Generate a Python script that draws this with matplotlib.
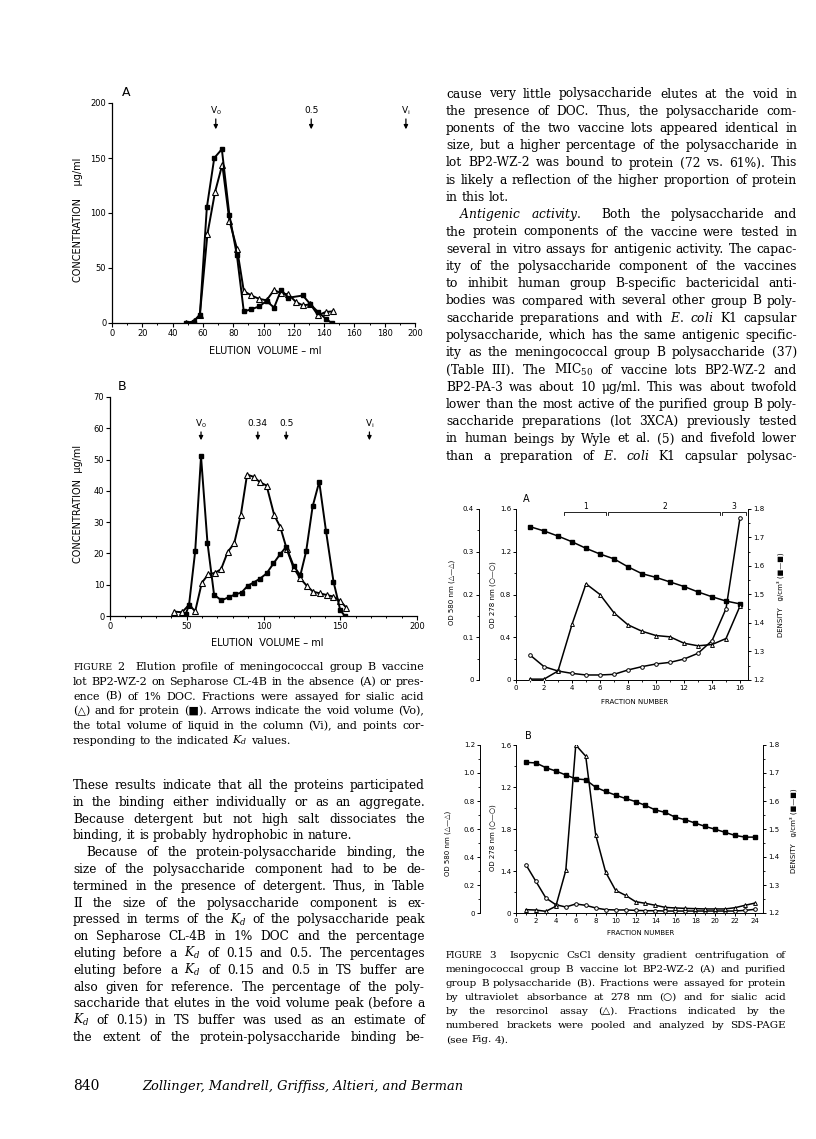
import matplotlib.pyplot as plt
from matplotlib.ticker import MultipleLocator, FuncFormatter

# Figure 2A: elution volume (ml) vs concentration (ug/ml), no DOC
fig2a_protein_ml = [48.8, 53.8, 58, 62.6, 67.5, 72.5, 77.5, 82.4, 87, 92, 97, 102, 107, 111.6,
                    116.5, 126, 131, 136, 141, 145]
fig2a_protein = [0, 1, 7, 105, 150, 158, 98, 62, 10.5, 12.5, 15, 20, 14, 30, 23, 25, 17, 10, 4, 0]
fig2a_sialic_ml = [48.8, 53.8, 58, 63, 68, 72.8, 77.5, 82.6, 87, 92, 97, 102, 107, 111.6, 116.5,
                   121.5, 126, 131, 136, 141, 146]
fig2a_sialic = [0, 1.5, 7.6, 81, 119, 144, 93, 67, 29, 25, 22, 20.6, 30, 27, 26, 19, 16, 17, 7, 10, 10.6]
fig2a_marks = [('V$_{\\mathsf{0}}$', 68.5), ('0.5', 131.5), ('V$_{\\mathsf{i}}$', 194)]

# Figure 2B: same, in 1% DOC
fig2b_protein_ml = [49.3, 51.5, 55.5, 59.3, 63.5, 67.8, 72.6, 77.4, 81.5, 85.7, 89.6, 93.5, 97.6,
                    102, 106.5, 110.9, 114.8, 119.6, 124, 127.8, 132, 136.3, 140.7, 145.6, 150, 153]
fig2b_protein = [0.5, 3.6, 20.7, 51, 23.4, 6.8, 5, 6, 6.9, 7.5, 9.6, 10.7, 11.9, 13.6, 16.8, 19.8,
                 22.1, 16, 13, 20.7, 35, 42.9, 27.2, 11, 1.9, 0]
fig2b_sialic_ml = [42, 47, 51.5, 55.5, 59.8, 64, 68.5, 72.4, 76.7, 80.9, 85.2, 89.3, 93.5, 97.8, 102,
                   107, 110.9, 115.2, 119.6, 124, 128.3, 132.2, 137, 141.3, 145.6, 150, 153.9]
fig2b_sialic = [1.4, 1.2, 3.6, 1.5, 10.6, 13.3, 13.8, 15, 20.5, 23.2, 32.2, 45.2, 44.5, 42.7, 41.7,
                32.2, 28.5, 21.3, 15.4, 12, 9.6, 7.8, 7.2, 6.7, 6.2, 4.8, 2.7]
fig2b_marks = [('V$_{\\mathsf{0}}$', 59.3), ('0.34', 96.3), ('0.5', 114.8), ('V$_{\\mathsf{i}}$', 169)]

# Figure 3A: CsCl gradient, vaccine lot BP2-WZ-2
fig3a_fraction = [1, 2, 3, 4, 5, 6, 7, 8, 9, 10, 11, 12, 13, 14, 15, 16]
fig3a_density = [1.738, 1.723, 1.705, 1.685, 1.662, 1.642, 1.625, 1.597, 1.573, 1.560, 1.544,
                 1.528, 1.509, 1.492, 1.477, 1.467]
fig3a_od278 = [0.234, 0.125, 0.084, 0.062, 0.047, 0.047, 0.053, 0.094, 0.125, 0.15, 0.165, 0.196,
               0.25, 0.368, 0.667, 1.52]
fig3a_od580 = [0.002, 0.002, 0.021, 0.130, 0.225, 0.200, 0.157, 0.129, 0.114, 0.104, 0.101, 0.086,
               0.080, 0.083, 0.097, 0.173]
fig3a_pools = [(3.45, 6.45, '1'), (6.6, 14.6, '2'), (14.7, 16.45, '3')]

# Figure 3B: CsCl gradient, purified group B polysaccharide
fig3b_fraction = [1, 2, 3, 4, 5, 6, 7, 8, 9, 10, 11, 12, 13, 14, 15, 16, 17, 18, 19, 20, 21, 22, 23, 24]
fig3b_density = [1.738, 1.736, 1.719, 1.707, 1.693, 1.679, 1.676, 1.649, 1.634, 1.621, 1.609, 1.598,
                 1.584, 1.568, 1.559, 1.542, 1.533, 1.521, 1.509, 1.499, 1.488, 1.477, 1.471, 1.471]
fig3b_od278 = [0.459, 0.301, 0.143, 0.079, 0.057, 0.086, 0.073, 0.048, 0.032, 0.029, 0.029, 0.025,
               0.022, 0.022, 0.019, 0.019, 0.019, 0.019, 0.019, 0.019, 0.019, 0.019, 0.025, 0.035]
fig3b_od580 = [0.024, 0.021, 0.012, 0.048, 0.304, 1.2, 1.12, 0.558, 0.292, 0.162, 0.126, 0.081,
               0.069, 0.055, 0.040, 0.036, 0.033, 0.031, 0.029, 0.029, 0.029, 0.038, 0.055, 0.071]
fig3b_od278_labels = ['0', '1.4', '1.8', '1.2', '1.6']   # printed that way on the page

# page text
right_col = [
    "cause very little polysaccharide elutes at the void in",
    "the presence of DOC. Thus, the polysaccharide com-",
    "ponents of the two vaccine lots appeared identical in",
    "size, but a higher percentage of the polysaccharide in",
    "lot BP2-WZ-2 was bound to protein (72 vs. 61%). This",
    "is likely a reflection of the higher proportion of protein",
    "in this lot.",
    "  $\\mathit{Antigenic}$ $\\mathit{activity.}$  Both the polysaccharide and",
    "the protein components of the vaccine were tested in",
    "several in vitro assays for antigenic activity. The capac-",
    "ity of the polysaccharide component of the vaccines",
    "to inhibit human group B-specific bactericidal anti-",
    "bodies was compared with several other group B poly-",
    "saccharide preparations and with $\\mathit{E.}$ $\\mathit{coli}$ K1 capsular",
    "polysaccharide, which has the same antigenic specific-",
    "ity as the meningococcal group B polysaccharide (37)",
    "(Table III). The MIC$_{50}$ of vaccine lots BP2-WZ-2 and",
    "BP2-PA-3 was about 10 μg/ml. This was about twofold",
    "lower than the most active of the purified group B poly-",
    "saccharide preparations (lot 3XCA) previously tested",
    "in human beings by Wyle et al. (5) and fivefold lower",
    "than a preparation of $\\mathit{E.}$ $\\mathit{coli}$ K1 capsular polysac-",
]
left_col = [
    "These results indicate that all the proteins participated",
    "in the binding either individually or as an aggregate.",
    "Because detergent but not high salt dissociates the",
    "binding, it is probably hydrophobic in nature.",
    "  Because of the protein-polysaccharide binding, the",
    "size of the polysaccharide component had to be de-",
    "termined in the presence of detergent. Thus, in Table",
    "II the size of the polysaccharide component is ex-",
    "pressed in terms of the $K_d$ of the polysaccharide peak",
    "on Sepharose CL-4B in 1% DOC and the percentage",
    "eluting before a $K_d$ of 0.15 and 0.5. The percentages",
    "eluting before a $K_d$ of 0.15 and 0.5 in TS buffer are",
    "also given for reference. The percentage of the poly-",
    "saccharide that elutes in the void volume peak (before a",
    "$K_d$ of 0.15) in TS buffer was used as an estimate of",
    "the extent of the protein-polysaccharide binding be-",
]
caption2 = [
    "FIGURE 2  Elution profile of meningococcal group B vaccine",
    "lot BP2-WZ-2 on Sepharose CL-4B in the absence (A) or pres-",
    "ence (B) of 1% DOC. Fractions were assayed for sialic acid",
    "(△) and for protein (■). Arrows indicate the void volume (Vo),",
    "the total volume of liquid in the column (Vi), and points cor-",
    "responding to the indicated $K_d$ values.",
]
caption3 = [
    "FIGURE 3  Isopycnic CsCl density gradient centrifugation of",
    "meningococcal group B vaccine lot BP2-WZ-2 (A) and purified",
    "group B polysaccharide (B). Fractions were assayed for protein",
    "by ultraviolet absorbance at 278 nm (○) and for sialic acid",
    "by the resorcinol assay (△). Fractions indicated by the",
    "numbered brackets were pooled and analyzed by SDS-PAGE",
    "(see Fig. 4).",
]

W, H = 816, 1139
SANS = 'DejaVu Sans'
BODY = ['DejaVu Serif', 'DejaVu Sans']
plt.rcParams['mathtext.fontset'] = 'dejavuserif'
plt.rcParams['font.family'] = SANS

fig = plt.figure(figsize=(W / 100, H / 100), dpi=100)


def add_axes(l, t, r, b):
    return fig.add_axes([l / W, 1 - b / H, (r - l) / W, (b - t) / H])


def put(x, y, s, **kw):
    return fig.text(x / W, 1 - y / H, s, **kw)


def elution_panel(box, ml_p, prot, ml_s, sial, ymax, ystep, xstep, marks, mark_y):
    ax = add_axes(*box)
    ax.plot(ml_s, sial, '-^', color='k', lw=1.4, ms=3.8, mfc='white', mew=0.8)
    ax.plot(ml_p, prot, '-s', color='k', lw=1.4, ms=3.2)
    ax.set_xlim(0, 200)
    ax.set_ylim(0, ymax)
    ax.xaxis.set_major_locator(MultipleLocator(xstep))
    ax.xaxis.set_minor_locator(MultipleLocator(10))
    ax.yaxis.set_major_locator(MultipleLocator(ystep))
    ax.spines[['top', 'right']].set_visible(False)
    ax.spines[['left', 'bottom']].set_linewidth(0.9)
    ax.tick_params(which='major', length=2.6, width=0.8, pad=1.5, labelsize=6)
    ax.tick_params(which='minor', length=1.6, width=0.7)
    tr = ax.get_xaxis_transform()
    for lab, x in marks:
        ax.text(x, mark_y[0], lab, transform=tr, ha='center', va='center', fontsize=6.5)
        ax.annotate('', xy=(x, mark_y[2]), xytext=(x, mark_y[1]), xycoords=tr,
                    arrowprops=dict(arrowstyle='-|>', color='k', lw=0.9, mutation_scale=6))
    return ax


def gradient_panel(box, frac, dens, od278, od580, xmax, od580_max, od580_step, od278_labels, outward):
    ax = add_axes(*box)
    ax.plot(frac, od278, '-o', color='k', lw=1.1, ms=2.6, mfc='white', mew=0.7, zorder=3)
    ax.set_xlim(0, xmax)
    ax.set_ylim(0, 1.6)
    ax.set_yticks([0, 0.4, 0.8, 1.2, 1.6], od278_labels)
    ax.yaxis.set_minor_locator(MultipleLocator(0.2))
    ax.xaxis.set_major_locator(MultipleLocator(2))
    ax.xaxis.set_minor_locator(MultipleLocator(1))
    ax.spines[['top', 'right']].set_visible(False)

    axd = ax.twinx()
    axd.plot(frac, dens, '-s', color='k', lw=1.1, ms=2.2)
    axd.set_ylim(1.2, 1.8)
    axd.yaxis.set_major_locator(MultipleLocator(0.1))
    axd.yaxis.set_minor_locator(MultipleLocator(0.05))
    axd.yaxis.set_major_formatter(FuncFormatter(lambda v, p: f'{v:.1f}'))
    axd.spines[['top', 'left', 'bottom']].set_visible(False)

    ax5 = ax.twinx()
    ax5.plot(frac, od580, '-^', color='k', lw=1.1, ms=2.8, mfc='white', mew=0.7)
    ax5.set_ylim(0, od580_max)
    ax5.yaxis.set_major_locator(MultipleLocator(od580_step))
    ax5.yaxis.set_minor_locator(MultipleLocator(od580_step / 2))
    ax5.yaxis.set_major_formatter(FuncFormatter(lambda v, p: '0' if abs(v) < 1e-9 else f'{v:.1f}'))
    ax5.yaxis.tick_left()
    ax5.spines[['top', 'right', 'bottom']].set_visible(False)
    ax5.spines['left'].set_position(('outward', outward))

    for a in (ax, axd, ax5):
        for s in a.spines.values():
            s.set_linewidth(0.7)
        a.tick_params(which='major', length=2.4, width=0.7, pad=1.2, labelsize=5)
        a.tick_params(which='minor', length=1.4, width=0.6)
    return ax


def text_block(lines, x0, x1, y0, dy, size, ragged=(), indent=13):
    # justified column: font is shrunk/grown so the tightest line has normal spacing
    r = fig.canvas.get_renderer()
    rows = []
    for i, line in enumerate(lines):
        left = x0 + (indent if line.startswith('  ') else 0)
        words = line.strip().split(' ')
        ts = [put(0, y0 + i * dy, w, family=BODY, va='baseline') for w in words]
        rows.append((left, ts, i in ragged))
    probe = [put(0, 0, s, family=BODY) for s in ('n n', 'nn')]

    def measure(sz):
        for _, ts, _ in rows:
            for t in ts:
                t.set_fontsize(sz * (0.84 if t.get_text() == 'FIGURE' else 1))
        for p in probe:
            p.set_fontsize(sz)
        sp = probe[0].get_window_extent(r).width - probe[1].get_window_extent(r).width
        return sp, [[t.get_window_extent(r).width for t in ts] for _, ts, _ in rows]

    space, widths = measure(size)
    fit = min((x1 - left) / (sum(ws) + space * (len(ws) - 1))
              for (left, ts, rag), ws in zip(rows, widths) if not rag)
    space, widths = measure(size * fit * 0.99)
    for p in probe:
        p.remove()
    for (left, ts, rag), ws in zip(rows, widths):
        gap = space if rag or len(ts) == 1 else (x1 - left - sum(ws)) / (len(ts) - 1)
        x = left
        for t, w in zip(ts, ws):
            t.set_x(x / W)
            x += w + gap


# ---- Figure 2 ----
elution_panel((112, 103, 415, 323), fig2a_protein_ml, fig2a_protein, fig2a_sialic_ml, fig2a_sialic,
              200, 50, 20, fig2a_marks, (0.965, 0.94, 0.868))
put(126, 93, 'A', fontsize=9, ha='center', va='center')
put(78, 220, 'CONCENTRATION    μg/ml', rotation=90, fontsize=7, ha='center', va='center')
put(265, 351, 'ELUTION  VOLUME – ml', fontsize=7, ha='center', va='center')

elution_panel((110, 397, 417, 616), fig2b_protein_ml, fig2b_protein, fig2b_sialic_ml, fig2b_sialic,
              70, 10, 50, fig2b_marks, (0.88, 0.853, 0.79))
put(122, 386, 'B', fontsize=9, ha='center', va='center')
put(78, 504, 'CONCENTRATION  μg/ml', rotation=90, fontsize=7, ha='center', va='center')
put(267, 643, 'ELUTION  VOLUME – ml', fontsize=7, ha='center', va='center')

# ---- Figure 3 ----
ax3a = gradient_panel((516, 509, 748, 680), fig3a_fraction, fig3a_density, fig3a_od278, fig3a_od580,
                      16.57, 0.4, 0.1, ['0', '0.4', '0.8', '1.2', '1.6'], 27)
for lo, hi, lab in fig3a_pools:
    ax3a.plot([lo, lo, hi, hi], [1.545, 1.572, 1.572, 1.545], color='k', lw=0.6, clip_on=False)
    ax3a.text((lo + hi) / 2, 1.625, lab, ha='center', va='center', fontsize=5.5, clip_on=False)
put(526, 499, 'A', fontsize=7, ha='center', va='center')
put(452, 592, 'OD 580 nm (△—△)', rotation=90, fontsize=5, ha='center', va='center')
put(493, 595, 'OD 278 nm (○—○)', rotation=90, fontsize=5, ha='center', va='center')
put(780, 595, 'DENSITY   g/cm³ (■—■)', rotation=90, fontsize=5, ha='center', va='center')
put(635, 702, 'FRACTION NUMBER', fontsize=5, ha='center', va='center')

gradient_panel((516, 745, 763, 913), fig3b_fraction, fig3b_density, fig3b_od278, fig3b_od580,
               24.8, 1.2, 0.2, fig3b_od278_labels, 26)
put(528, 736, 'B', fontsize=7, ha='center', va='center')
put(448, 843, 'OD 580 nm (△—△)', rotation=90, fontsize=5, ha='center', va='center')
put(493, 838, 'OD 278 nm (○—○)', rotation=90, fontsize=5, ha='center', va='center')
put(793, 831, 'DENSITY   g/cm³ (■—■)', rotation=90, fontsize=5, ha='center', va='center')
put(641, 933, 'FRACTION NUMBER', fontsize=5, ha='center', va='center')

# ---- page text ----
text_block(right_col, 446, 797, 97.5, 17.25, 8.6, ragged=(6,))
text_block(left_col, 73, 425, 789, 16.8, 8.6, ragged=(3,))
text_block(caption2, 73, 424, 670.3, 14.67, 7.2, ragged=(5,))
text_block(caption3, 446, 786, 957.8, 14.05, 7.2, ragged=(6,))
put(73, 1090, '840', fontsize=10, family=BODY, va='baseline')
put(142, 1090, 'Zollinger, Mandrell, Griffiss, Altieri, and Berman', fontsize=9.4,
    family=BODY, style='italic', va='baseline')

fig.savefig('out.png', dpi=100)
